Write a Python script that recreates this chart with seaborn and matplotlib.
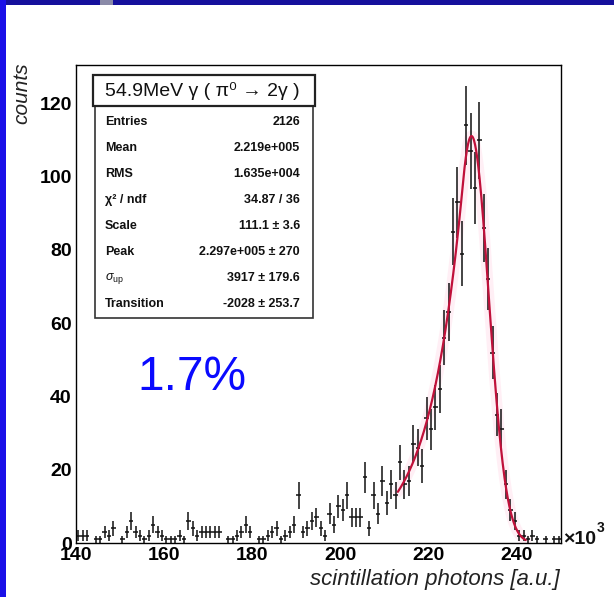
import numpy as np
import pandas as pd
import matplotlib
matplotlib.use("Agg")
import matplotlib.pyplot as plt
from matplotlib.patches import Rectangle
from matplotlib.ticker import MultipleLocator
import seaborn as sns

# ---- data -------------------------------------------------------------
# scintillation-photon spectrum, 1k-photon bins from 140k to 250k
bin_width = 1.0
hist_lo = 140.0
counts = [
    2, 2, 2, 0, 1, 1, 3, 2, 4, 0,          # 140-149
    1, 3, 6, 3, 2, 1, 2, 5, 3, 2,          # 150-159
    1, 1, 1, 2, 1, 6, 4, 2, 3, 3,          # 160-169
    3, 3, 3, 0, 1, 1, 2, 3, 5, 3,          # 170-179
    0, 1, 1, 2, 3, 4, 1, 2, 3, 5,          # 180-189
    13, 3, 4, 6, 7, 4, 2, 8, 5, 10,        # 190-199
    9, 13, 7, 7, 7, 18, 4, 13, 8, 17,      # 200-209
    11, 16, 13, 22, 16, 17, 27, 26, 21, 34,  # 210-219
    31, 37, 42, 56, 63, 85, 93, 79, 114, 107,  # 220-229
    97, 110, 86, 72, 52, 35, 31, 16, 9, 6,   # 230-239
    2, 2, 1, 2, 1, 0, 1, 0, 1, 1,          # 240-249
]

# fit result (x in units of 10^3 photons)
fit_scale = 111.1
fit_peak = 229.7
fit_sigma_up = 3.917
fit_transition = -2.028
fit_range = (213.0, 242.0)

title_text = "54.9MeV \u03b3 ( \u03c0\u2070 \u2192 2\u03b3 )"
stat_names = ["Entries", "Mean", "RMS", "\u03c7\u00b2 / ndf", "Scale", "Peak",
              r"$\sigma_{\rm up}$", "Transition"]
stat_values = ["2126", "2.219e+005", "1.635e+004", "34.87 / 36",
               "111.1 \u00b1 3.6", "2.297e+005 \u00b1 270",
               "3917 \u00b1 179.6", "-2028 \u00b1 253.7"]
resolution_text = "1.7%"

# ---- style ------------------------------------------------------------
sns.set_theme(style="white")
plt.rcParams["font.family"] = ["Liberation Sans", "DejaVu Sans"]
plt.rcParams["mathtext.fontset"] = "custom"
plt.rcParams["mathtext.rm"] = "Liberation Sans"
plt.rcParams["mathtext.it"] = "Liberation Sans:italic"
plt.rcParams["mathtext.bf"] = "Liberation Sans:bold"

W, H = 614, 597
fig = plt.figure(figsize=(W / 100, H / 100), dpi=100, facecolor="white")


def fx(px):
    return px / W


def fy(py):
    return 1 - py / H


ax = fig.add_axes([fx(76), fy(543), fx(561) - fx(76), fy(65) - fy(543)])
ax.set_facecolor("white")

df = pd.DataFrame({"counts": counts})
df["center"] = hist_lo + bin_width * (np.arange(len(df)) + 0.5)
df["err"] = np.sqrt(df["counts"])
filled = df[df["counts"] > 0]

# fitted response: Gaussian above the transition, exponential tail below
xs = np.linspace(fit_range[0], fit_range[1], 400)
d = xs - fit_peak
t = fit_transition
s2 = fit_sigma_up ** 2
ys = np.where(d > t,
              fit_scale * np.exp(-d ** 2 / (2 * s2)),
              fit_scale * np.exp(t / s2 * (t / 2 - d)))
fit_df = pd.DataFrame({"x": xs, "y": ys})

sns.lineplot(data=fit_df, x="x", y="y", ax=ax, color="#ffe3ee", lw=8,
             alpha=0.55, zorder=1)
sns.lineplot(data=fit_df, x="x", y="y", ax=ax, color="#c0103a", lw=1.6,
             zorder=3)
ax.errorbar(filled["center"], filled["counts"], xerr=bin_width / 2,
            yerr=filled["err"], fmt="none", ecolor="#111111", elinewidth=1.1,
            capsize=0, zorder=2)

ax.set_xlim(140, 250)
ax.set_ylim(0, 130.5)
ax.set_xlabel("")
ax.set_ylabel("")
ax.xaxis.set_major_locator(MultipleLocator(20))
ax.xaxis.set_minor_locator(MultipleLocator(5))
ax.yaxis.set_major_locator(MultipleLocator(20))
ax.yaxis.set_minor_locator(MultipleLocator(5))
ax.tick_params(which="both", direction="in", top=False, right=False,
               colors="black", labelsize=14, width=1.0)
ax.tick_params(which="major", length=10.5, pad=3)
ax.tick_params(which="minor", length=5)
for lab in ax.get_xticklabels() + ax.get_yticklabels():
    lab.set_fontweight("bold")
for sp in ax.spines.values():
    sp.set_color("black")
    sp.set_linewidth(1.0)

# axis titles
fig.text(fx(22), fy(62), "counts", rotation=90, ha="center", va="top",
         fontsize=15, fontstyle="italic", color="#222222")
fig.text(fx(560), fy(579), "scintillation photons [a.u.]", ha="right",
         va="center", fontsize=16, fontstyle="italic", color="#222222")
fig.text(fx(563), fy(539), "\u00d710", ha="left", va="center", fontsize=14,
         fontweight="bold", color="#111111")
fig.text(fx(597), fy(528), "3", ha="left", va="center", fontsize=10,
         fontweight="bold", color="#111111")

# resolution annotation
fig.text(fx(137), fy(390), resolution_text, ha="left", va="baseline",
         fontsize=34.5, color="#0a0aff")

# title pave and statistics box
fig.add_artist(Rectangle((fx(95), fy(318)), fx(313) - fx(95),
                         fy(106) - fy(318), transform=fig.transFigure,
                         facecolor="white", edgecolor="#333333", lw=1.2,
                         zorder=5))
fig.add_artist(Rectangle((fx(93), fy(106)), fx(315) - fx(93),
                         fy(75) - fy(106), transform=fig.transFigure,
                         facecolor="white", edgecolor="#222222", lw=1.6,
                         zorder=5))
fig.text(fx(202), fy(91), title_text, ha="center", va="center", fontsize=14,
         color="#111111", zorder=6)
for i, (name, val) in enumerate(zip(stat_names, stat_values)):
    yy = fy(122 + 26 * i)
    fig.text(fx(105), yy, name, ha="left", va="center", fontsize=9,
             fontweight="bold", color="#111111", zorder=6)
    fig.text(fx(300), yy, val, ha="right", va="center", fontsize=9,
             fontweight="bold", color="#111111", zorder=6)

# slide border
fig.add_artist(Rectangle((0, fy(5)), 1, fy(0) - fy(5),
                         transform=fig.transFigure, color="#15109c", lw=0))
fig.add_artist(Rectangle((fx(100), fy(5)), fx(13), fy(0) - fy(5),
                         transform=fig.transFigure, color="#8a8aa8", lw=0))
fig.add_artist(Rectangle((0, 0), fx(6), 1, transform=fig.transFigure,
                         color="#1a10e8", lw=0))

fig.savefig("out.png", dpi=100, facecolor="white")
